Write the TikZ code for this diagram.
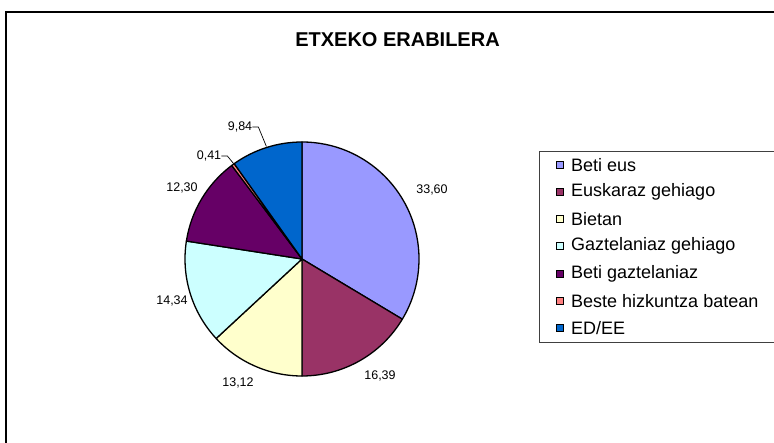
\documentclass[tikz,border=0pt]{standalone}
\usepackage{fontspec}
\setmainfont{Liberation Sans}
\definecolor{cBetiEus}{HTML}{9999FF}
\definecolor{cEuskaraz}{HTML}{993366}
\definecolor{cBietan}{HTML}{FFFFCC}
\definecolor{cGaztel}{HTML}{CCFFFF}
\definecolor{cBetiGazt}{HTML}{660066}
\definecolor{cBeste}{HTML}{FF8080}
\definecolor{cEDEE}{HTML}{0066CC}
\begin{document}
\begin{tikzpicture}[x=1pt,y=-1pt,
  slice/.style={draw=black,line width=1.3pt,line join=round},
  vallabel/.style={font=\fontsize{12.5}{14}\selectfont,inner sep=0pt},
  legsq/.style={draw=black,line width=0.7pt,minimum size=7.5pt,inner sep=0pt},
  legtxt/.style={font=\fontsize{18}{21}\selectfont,anchor=west,inner sep=0pt},
  leader/.style={draw=black,line width=0.7pt}]
\useasboundingbox (0,0) rectangle (774,443);
\fill[white] (0,0) rectangle (774,443);
% chart area border
\draw[line width=1.6pt] (774,12) -- (6,12) -- (6,443);
% title
\node[font=\bfseries\fontsize{20}{23}\selectfont,inner sep=0pt] (title) at (397.5,39.5) {ETXEKO ERABILERA};
% pie
\begin{scope}[shift={(302,259)},yscale=-1]
  \foreach \a/\b/\c in {90/-30.96/cBetiEus, -30.96/-89.964/cEuskaraz, -89.964/-137.196/cBietan, -137.196/-188.82/cGaztel, -188.82/-233.1/cBetiGazt, -233.1/-234.576/cBeste, -234.576/-270/cEDEE}
    \filldraw[slice,fill=\c] (0,0) -- (\a:117) arc (\a:\b:117) -- cycle;
\end{scope}
% value labels
\node[vallabel] (v1) at (432,190) {33,60};
\node[vallabel] (v2) at (380,376) {16,39};
\node[vallabel] (v3) at (238,383) {13,12};
\node[vallabel] (v4) at (172,301) {14,34};
\node[vallabel] (v5) at (182,188) {12,30};
\node[vallabel] (v6) at (209,156) {0,41};
\node[vallabel] (v7) at (240,127) {9,84};
\coordinate (e6) at (233.5,163.5);
\coordinate (e7) at (266.4,146.5);
\draw[leader] (v6.east) -- ++(6,0) -- (e6);
\draw[leader] (v7.east) -- ++(6,0) -- (e7);
% legend
\draw[line width=0.8pt,draw=black!75] (774,151) -- (539,151) -- (539,342) -- (774,342);
\foreach \y/\c/\t [count=\i] in {165/cBetiEus/{Beti eus}, 192/cEuskaraz/{Euskaraz gehiago}, 219/cBietan/{Bietan}, 246/cGaztel/{Gaztelaniaz gehiago}, 274/cBetiGazt/{Beti gaztelaniaz}, 301/cBeste/{Beste hizkuntza batean}, 328/cEDEE/{ED/EE}}{
  \node[legsq,fill=\c] (sq\i) at (560,\y) {};
  \node[legtxt] (lt\i) at (571,\y) {\t};
}
\end{tikzpicture}
\end{document}
